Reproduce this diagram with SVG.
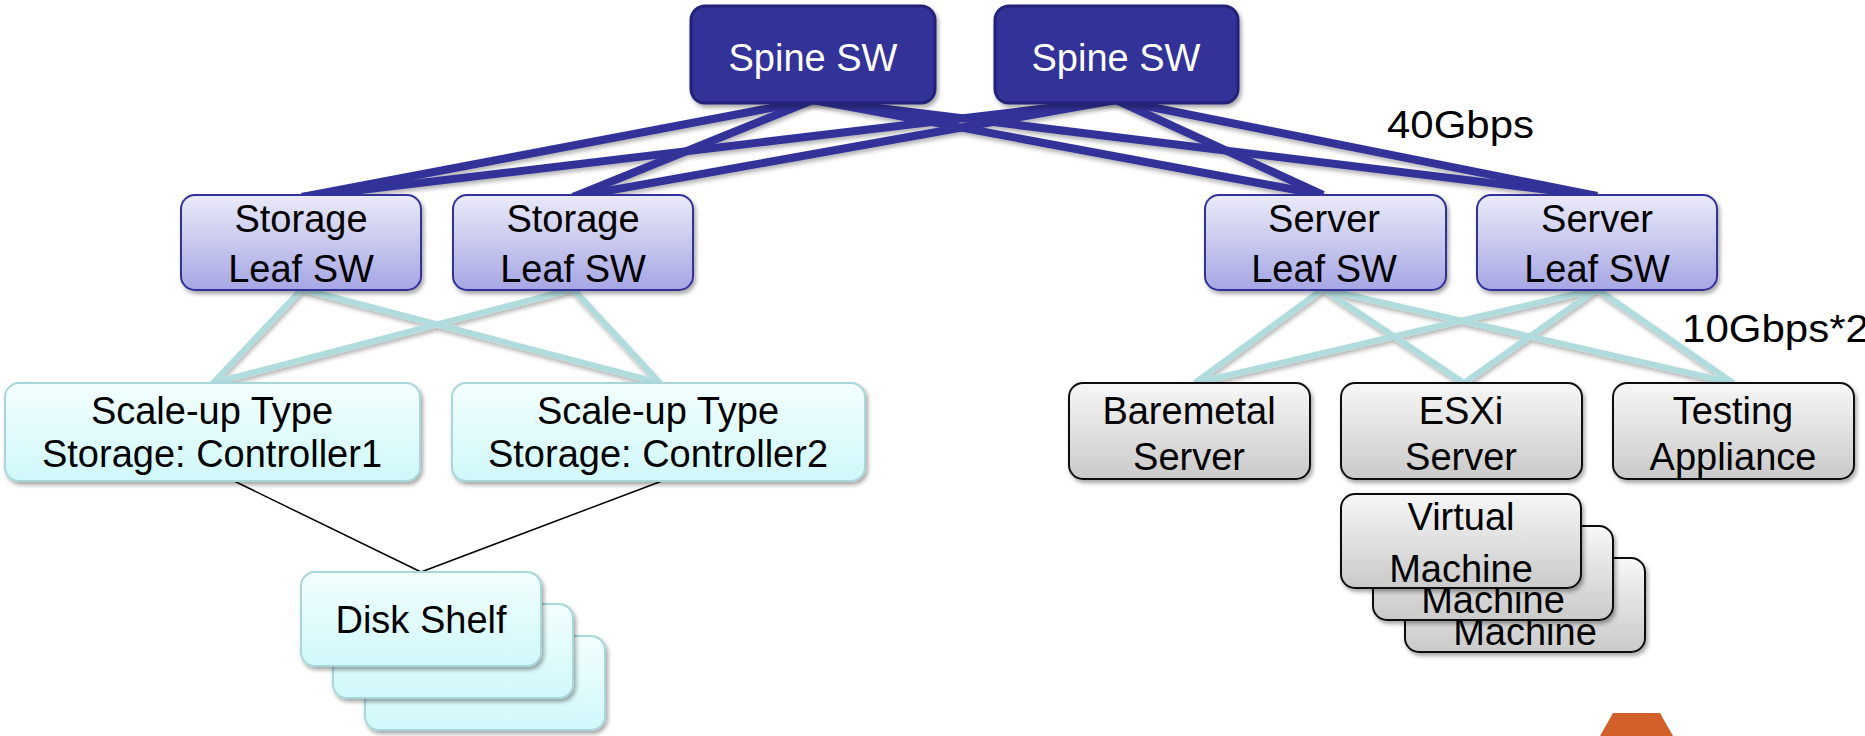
<svg xmlns="http://www.w3.org/2000/svg" width="1865" height="736" viewBox="0 0 1865 736">
  <defs>
    <filter id="shadow" x="-10%" y="-10%" width="130%" height="150%">
      <feDropShadow dx="2" dy="3" stdDeviation="2" flood-color="#000" flood-opacity="0.35"/>
    </filter>
    <filter id="lineShadow" x="-5%" y="-20%" width="110%" height="150%">
      <feDropShadow dx="1" dy="3" stdDeviation="2" flood-color="#000" flood-opacity="0.3"/>
    </filter>
    <linearGradient id="leafGrad" x1="0" y1="0" x2="0" y2="1">
      <stop offset="0" stop-color="#eaeaf9"/>
      <stop offset="1" stop-color="#a6a6e5"/>
    </linearGradient>
    <linearGradient id="cyanGrad" x1="0" y1="0" x2="0" y2="1">
      <stop offset="0" stop-color="#f3fefe"/>
      <stop offset="1" stop-color="#d0f8fa"/>
    </linearGradient>
    <linearGradient id="grayGrad" x1="0" y1="0" x2="0" y2="1">
      <stop offset="0" stop-color="#f7f7f7"/>
      <stop offset="1" stop-color="#cacaca"/>
    </linearGradient>
    <style>
      text { font-family: "Liberation Sans", Arial, sans-serif; font-size: 38px; text-anchor: middle; fill: #000; }
      .spine rect { fill: #333399; stroke: #242478; stroke-width: 3; filter: url(#shadow); }
      .spine text { fill: #fff; }
      .leaf rect { fill: url(#leafGrad); stroke: #333399; stroke-width: 2; filter: url(#shadow); }
      .storage rect { fill: url(#cyanGrad); stroke: #a9d6da; stroke-width: 2; filter: url(#shadow); }
      .host rect { fill: url(#grayGrad); stroke: #111; stroke-width: 2; filter: url(#shadow); }
      .uplink { stroke: #333399; stroke-width: 8; fill: none; }
      .downlink { stroke: #b1dcdd; stroke-width: 6; fill: none; }
      .sas { stroke: #000; stroke-width: 1.5; fill: none; }
      .label { text-anchor: start; font-size: 38px; }
    </style>
  </defs>

  <rect width="1865" height="736" fill="#fff"/>

  <!-- connectors -->
  <g id="connectors">
    <g filter="url(#lineShadow)">
      <line class="uplink" x1="813" y1="100" x2="302" y2="197"/>
      <line class="uplink" x1="813" y1="100" x2="573" y2="197"/>
      <line class="uplink" x1="813" y1="100" x2="1323" y2="195"/>
      <line class="uplink" x1="813" y1="100" x2="1597" y2="196"/>
      <line class="uplink" x1="1116" y1="100" x2="302" y2="197"/>
      <line class="uplink" x1="1116" y1="100" x2="573" y2="197"/>
      <line class="uplink" x1="1116" y1="100" x2="1323" y2="195"/>
      <line class="uplink" x1="1116" y1="100" x2="1597" y2="196"/>
    </g>
    <g filter="url(#lineShadow)">
      <line class="downlink" x1="302" y1="289" x2="213" y2="383"/>
      <line class="downlink" x1="302" y1="289" x2="660" y2="383"/>
      <line class="downlink" x1="573" y1="289" x2="213" y2="383"/>
      <line class="downlink" x1="573" y1="289" x2="660" y2="383"/>
      <line class="downlink" x1="1323" y1="289" x2="1195" y2="383"/>
      <line class="downlink" x1="1323" y1="289" x2="1464" y2="383"/>
      <line class="downlink" x1="1323" y1="289" x2="1733" y2="383"/>
      <line class="downlink" x1="1597" y1="289" x2="1195" y2="383"/>
      <line class="downlink" x1="1597" y1="289" x2="1464" y2="383"/>
      <line class="downlink" x1="1597" y1="289" x2="1733" y2="383"/>
    </g>
    <line class="sas" x1="234" y1="481" x2="421" y2="572"/>
    <line class="sas" x1="662" y1="481" x2="421" y2="572"/>
  </g>

  <!-- spine switches -->
  <g id="spine1" class="spine">
    <rect x="691" y="6" width="244" height="97" rx="14"/>
    <text x="813" y="71">Spine SW</text>
  </g>
  <g id="spine2" class="spine">
    <rect x="995" y="6" width="243" height="97" rx="14"/>
    <text x="1116" y="71">Spine SW</text>
  </g>

  <!-- leaf switches -->
  <g id="storage-leaf1" class="leaf">
    <rect x="181" y="195" width="240" height="95" rx="14"/>
    <text x="301" y="232">Storage</text>
    <text x="301" y="282">Leaf SW</text>
  </g>
  <g id="storage-leaf2" class="leaf">
    <rect x="453" y="195" width="240" height="95" rx="14"/>
    <text x="573" y="232">Storage</text>
    <text x="573" y="282">Leaf SW</text>
  </g>
  <g id="server-leaf1" class="leaf">
    <rect x="1205" y="195" width="241" height="95" rx="14"/>
    <text x="1324" y="232">Server</text>
    <text x="1324" y="282">Leaf SW</text>
  </g>
  <g id="server-leaf2" class="leaf">
    <rect x="1477" y="195" width="240" height="95" rx="14"/>
    <text x="1597" y="232">Server</text>
    <text x="1597" y="282">Leaf SW</text>
  </g>

  <!-- storage controllers -->
  <g id="controller1" class="storage">
    <rect x="5" y="383" width="415" height="98" rx="14"/>
    <text x="212" y="424">Scale-up Type</text>
    <text x="212" y="467">Storage: Controller1</text>
  </g>
  <g id="controller2" class="storage">
    <rect x="452" y="383" width="413" height="98" rx="14"/>
    <text x="658" y="424">Scale-up Type</text>
    <text x="658" y="467">Storage: Controller2</text>
  </g>

  <!-- disk shelves (stacked) -->
  <g id="disk-shelf" class="storage">
    <rect x="365" y="636" width="240" height="94" rx="14"/>
    <rect x="333" y="604" width="240" height="94" rx="14"/>
    <rect x="301" y="572" width="240" height="94" rx="14"/>
    <text x="421" y="633">Disk Shelf</text>
  </g>

  <!-- hosts -->
  <g id="baremetal" class="host">
    <rect x="1069" y="383" width="241" height="96" rx="14"/>
    <text x="1189" y="424">Baremetal</text>
    <text x="1189" y="470">Server</text>
  </g>
  <g id="esxi" class="host">
    <rect x="1341" y="383" width="241" height="96" rx="14"/>
    <text x="1461" y="424">ESXi</text>
    <text x="1461" y="470">Server</text>
  </g>
  <g id="testing" class="host">
    <rect x="1613" y="383" width="241" height="96" rx="14"/>
    <text x="1733" y="424">Testing</text>
    <text x="1733" y="470">Appliance</text>
  </g>

  <!-- virtual machines (stacked) -->
  <g id="vm3" class="host">
    <rect x="1405" y="558" width="240" height="94" rx="14"/>
    <text x="1525" y="645">Machine</text>
  </g>
  <g id="vm2" class="host">
    <rect x="1373" y="526" width="240" height="94" rx="14"/>
    <text x="1493" y="613">Machine</text>
  </g>
  <g id="vm1" class="host">
    <rect x="1341" y="494" width="240" height="94" rx="14"/>
    <text x="1461" y="530">Virtual</text>
    <text x="1461" y="582">Machine</text>
  </g>

  <!-- bandwidth labels -->
  <text class="label" x="1387" y="138" textLength="147" lengthAdjust="spacingAndGlyphs">40Gbps</text>
  <text class="label" x="1682" y="342" textLength="187" lengthAdjust="spacingAndGlyphs">10Gbps*2</text>

  <!-- corner mark -->
  <polygon points="1613,713 1660,713 1673,736 1600,736" fill="#d3602b"/>
</svg>
